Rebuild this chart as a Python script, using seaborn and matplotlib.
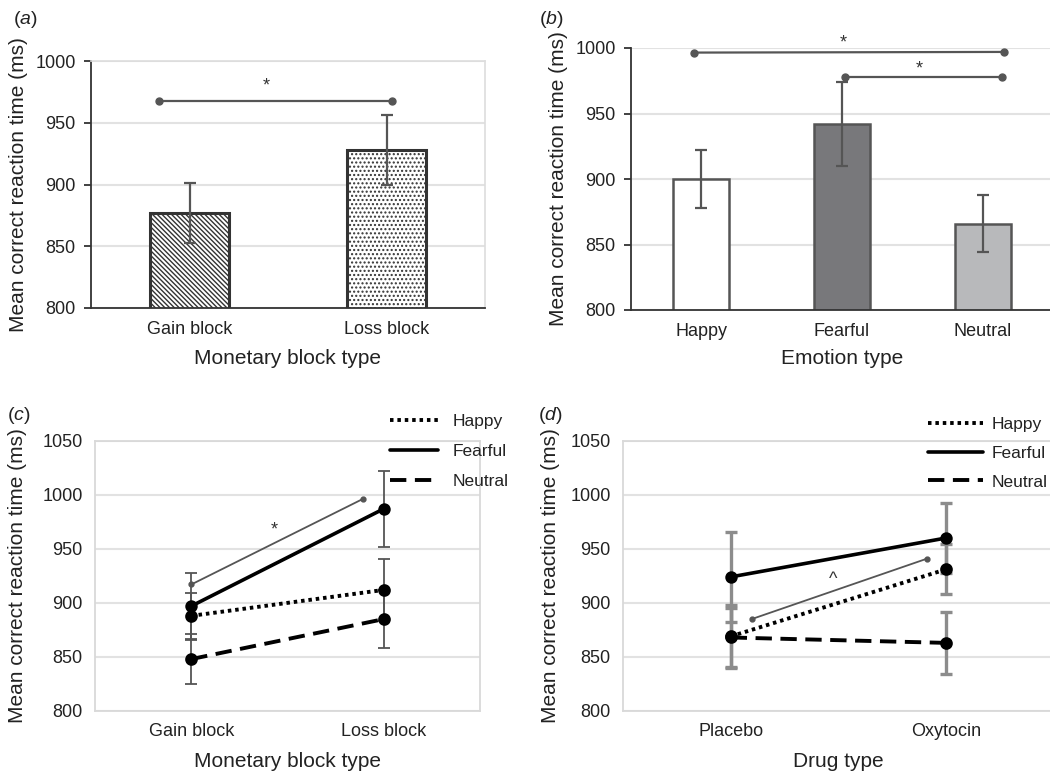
import matplotlib
matplotlib.use("Agg")
import matplotlib.pyplot as plt
from matplotlib.lines import Line2D
import numpy as np
import seaborn as sns

# ---------------- data ----------------
block_cats = ["Gain block", "Loss block"]
block_rt = [877, 928]
block_err = [24, 28]

emotion_cats = ["Happy", "Fearful", "Neutral"]
emotion_rt = [900, 942, 866]
emotion_err = [22, 32, 22]

happy_block = [888, 912]
happy_block_err = [21, 29]
fearful_block = [897, 987]
fearful_block_err = [31, 35]
neutral_block = [848, 885]
neutral_block_err = [23, 27]

drug_cats = ["Placebo", "Oxytocin"]
happy_drug = [869, 931]
happy_drug_err = [29, 23]
fearful_drug = [924, 960]
fearful_drug_err = [42, 32]
neutral_drug = [868, 863]
neutral_drug_err = [27, 29]

# significance annotations: (x0, y0, x1, y1, label, label_x, label_y)
sig_a = [(-0.155, 968, 1.028, 968, "*", 0.39, 980)]
sig_b = [(-0.05, 996.5, 2.15, 997, "*", 1.01, 1004),
         (1.018, 978, 2.135, 978, "*", 1.55, 984)]
sig_c = [(0.0, 917, 0.89, 996, "*", 0.433, 967)]
sig_d = [(0.0975, 885, 0.913, 941, "^", 0.475, 922)]

# ---------------- style ----------------
sns.set_theme(style="white")
plt.rcParams["font.family"] = ["Liberation Sans", "DejaVu Sans"]
plt.rcParams["mathtext.fontset"] = "custom"
plt.rcParams["mathtext.it"] = "Liberation Sans:italic"
plt.rcParams["mathtext.rm"] = "Liberation Sans"
plt.rcParams["hatch.linewidth"] = 1.0

W, H = 1050, 778
fig = plt.figure(figsize=(W / 100, H / 100), dpi=100)


def add_ax(l, r, t, b):
    return fig.add_axes([l / W, (H - b) / H, (r - l) / W, (b - t) / H])


TICK_FS = 13
LAB_FS = 15
GRID_C = "#e2e2e2"
YLAB = "Mean correct reaction time (ms)"


def style_bar_axes(ax, ncat, ylab_x, xlab_y):
    ax.set_ylim(800, 1000)
    ax.set_yticks(range(800, 1001, 50))
    ax.set_xlim(-0.5, ncat - 0.5)
    ax.yaxis.grid(True, color=GRID_C, lw=1.5)
    ax.xaxis.grid(False)
    ax.set_axisbelow(True)
    for s in ["left", "bottom"]:
        ax.spines[s].set_color("#333333")
        ax.spines[s].set_linewidth(1.3)
    for s in ["top", "right"]:
        ax.spines[s].set_color("#dddddd")
        ax.spines[s].set_linewidth(1.2)
    ax.set_xticks(np.arange(ncat))
    ax.set_xticks(np.arange(ncat + 1) - 0.5, minor=True)
    ax.tick_params(axis="x", which="major", length=0, pad=9, labelsize=TICK_FS, colors="#222222")
    ax.tick_params(axis="x", which="minor", length=5, width=1.3, color="#333333", direction="out")
    ax.tick_params(axis="y", length=5, width=1.3, color="#333333", direction="out", pad=6,
                   labelsize=TICK_FS, labelcolor="#222222", left=True)
    ax.set_ylabel(YLAB, fontsize=LAB_FS, color="#222222")
    ax.yaxis.set_label_coords(ylab_x, 0.5)
    ax.xaxis.set_label_coords(0.5, xlab_y)


def style_line_axes(ax, ylab_x, xlab_y):
    ax.set_ylim(800, 1050)
    ax.set_yticks(range(800, 1051, 50))
    ax.set_xlim(-0.5, 1.5)
    ax.yaxis.grid(True, color=GRID_C, lw=1.5)
    ax.xaxis.grid(False)
    ax.set_axisbelow(True)
    for s in ax.spines.values():
        s.set_color("#d9d9d9")
        s.set_linewidth(1.3)
    ax.tick_params(axis="x", length=0, pad=9, labelsize=TICK_FS, colors="#222222")
    ax.tick_params(axis="y", length=0, pad=9, labelsize=TICK_FS, colors="#222222")
    ax.set_ylabel(YLAB, fontsize=LAB_FS, color="#222222")
    ax.yaxis.set_label_coords(ylab_x, 0.5)
    ax.xaxis.set_label_coords(0.5, xlab_y)


def draw_sig(ax, sigs, color="#555555", lw=1.6, ms=5):
    for x0, y0, x1, y1, lab, lx, ly in sigs:
        ax.plot([x0, x1], [y0, y1], color=color, lw=lw, marker="o", ms=ms,
                solid_capstyle="butt", zorder=5)
        ax.text(lx, ly, lab, ha="center", va="center", fontsize=13, color="#333333", zorder=6)


# ---------------- panel (a) ----------------
ax = add_ax(91, 485, 61, 308)
sns.barplot(x=block_cats, y=block_rt, ax=ax, width=0.4, color="white",
            edgecolor="#333333", linewidth=2.2, errorbar=None)
hatches = ["\\\\\\\\\\\\\\", "...."]
for p, h in zip(ax.patches, hatches):
    p.set_hatch(h)
    p.set_facecolor("white")
    p.set_edgecolor("#333333")
ax.errorbar(np.arange(len(block_cats)), block_rt, yerr=block_err, fmt="none",
            ecolor="#555555", elinewidth=1.6, capsize=4, capthick=1.6, zorder=4)
draw_sig(ax, sig_a)
ax.set_xlabel("Monetary block type", fontsize=LAB_FS, color="#222222")
style_bar_axes(ax, 2, -0.16, -0.165)

# ---------------- panel (b) ----------------
ax = add_ax(631, 1053, 48, 310)
sns.barplot(x=emotion_cats, y=emotion_rt, hue=emotion_cats, ax=ax, width=0.4,
            palette=["#ffffff", "#77787c", "#b8b9bb"], edgecolor="#555555",
            linewidth=1.8, errorbar=None, legend=False)
ax.errorbar(np.arange(len(emotion_cats)), emotion_rt, yerr=emotion_err, fmt="none",
            ecolor="#555555", elinewidth=1.6, capsize=4, capthick=1.6, zorder=4)
draw_sig(ax, sig_b)
ax.set_xlabel("Emotion type", fontsize=LAB_FS, color="#222222")
style_bar_axes(ax, 3, -0.149, -0.15)
ax.spines["right"].set_visible(False)
ax.spines["top"].set_visible(False)

# ---------------- line panels ----------------
DOT = (0, (0.9, 1.0))
DASH = (0, (4.2, 2.2))


def line_panel(ax, cats, series, errs, ecolor, elw, sigs, xlabel, ylab_x, xlab_y,
               leg_anchor, handlelength, textpad, labelspacing):
    styles = [DOT, "-", DASH]
    lws = [2.8, 2.6, 2.8]
    for vals, err in zip(series, errs):
        ax.errorbar(np.arange(len(cats)), vals, yerr=err, fmt="none", ecolor=ecolor,
                    elinewidth=elw, capsize=4, capthick=elw, zorder=2)
    for vals, ls, lw in zip(series, styles, lws):
        sns.pointplot(x=cats, y=vals, ax=ax, color="black", markers="o",
                      markersize=7, linewidth=lw, errorbar=None)
        ax.lines[-1].set_linestyle(ls)
        ax.lines[-1].set_zorder(3)
    draw_sig(ax, sigs, color="#555555", lw=1.3, ms=3.5)
    ax.set_xlabel(xlabel, fontsize=LAB_FS, color="#222222")
    style_line_axes(ax, ylab_x, xlab_y)
    handles = [Line2D([], [], color="black", lw=lw, ls=ls) for ls, lw in zip(styles, lws)]
    ax.legend(handles, emotion_cats, loc="upper left", bbox_to_anchor=leg_anchor,
              bbox_transform=fig.transFigure, frameon=False, fontsize=12.5,
              borderpad=0, borderaxespad=0, handlelength=handlelength,
              handletextpad=textpad, labelspacing=labelspacing, labelcolor="#222222")


ax = add_ax(95, 480, 440.7, 711)
line_panel(ax, block_cats, [happy_block, fearful_block, neutral_block],
           [happy_block_err, fearful_block_err, neutral_block_err],
           "#555555", 1.3, sig_c, "Monetary block type", -0.177, -0.152,
           (390 / W, 1 - 414 / H), 2.76, 0.86, 0.85)

ax = add_ax(623, 1053.7, 440.7, 711)
line_panel(ax, drug_cats, [happy_drug, fearful_drug, neutral_drug],
           [happy_drug_err, fearful_drug_err, neutral_drug_err],
           "#8c8c8c", 2.4, sig_d, "Drug type", -0.146, -0.152,
           (928 / W, 1 - 417 / H), 3.17, 0.52, 0.78)

# ---------------- panel labels ----------------
for x, y, lab in [(13, 20, "a"), (539, 20, "b"), (7, 415, "c"), (538, 415, "d")]:
    fig.text(x / W, 1 - y / H, r"($\mathit{" + lab + r"}$)", ha="left", va="center",
             fontsize=14, color="#222222")

fig.savefig("out.png", dpi=100)
